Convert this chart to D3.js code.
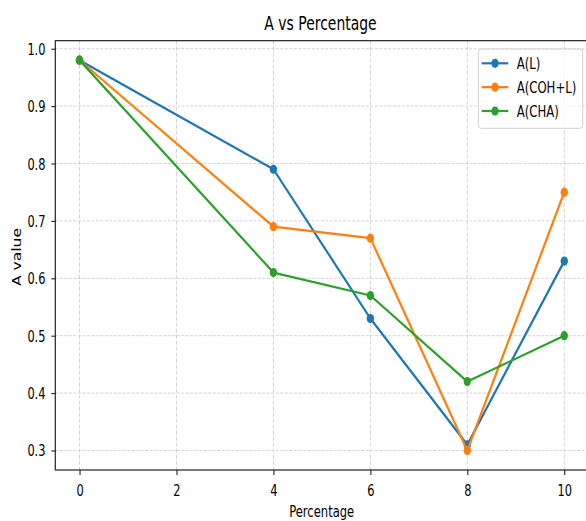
<!DOCTYPE html>
<html>
<head>
<meta charset="utf-8">
<script src="https://cdn.jsdelivr.net/npm/d3@7"></script>
<style>
  html, body { margin: 0; padding: 0; background: #fff; }
  svg { display: block; }
  text { font-family: "DejaVu Sans", sans-serif; fill: #000; }
</style>
</head>
<body>
<svg id="chart" width="586" height="521"></svg>
<script>
// ---- data ----
const percentages = [0, 4, 6, 8, 10];
const seriesNames = ["A(L)", "A(COH+L)", "A(CHA)"];
const valuesL = [0.98, 0.79, 0.53, 0.31, 0.63];
const valuesCOHL = [0.98, 0.69, 0.67, 0.30, 0.75];
const valuesCHA = [0.98, 0.61, 0.57, 0.42, 0.50];
const seriesColors = ["#1f77b4", "#ff7f0e", "#2ca02c"];
const xTicks = [0, 2, 4, 6, 8, 10];
const yTicks = [0.3, 0.4, 0.5, 0.6, 0.7, 0.8, 0.9, 1.0];
const titleText = "A vs Percentage";
const xLabelText = "Percentage";
const yLabelText = "A value";

const series = [valuesL, valuesCOHL, valuesCHA].map((vals, i) => ({
  name: seriesNames[i],
  color: seriesColors[i],
  points: percentages.map((p, j) => ({ x: p, y: vals[j] }))
}));

// ---- layout ----
const SX = 0.75; // horizontal squeeze of the reference
const mLeft = 55.3, mRight = 588.5, mTop = 40.7, mBottom = 470;

const svg = d3.select("#chart");
const x = d3.scaleLinear().domain([-0.5, 10.5]).range([mLeft, mRight]);
const y = d3.scaleLinear().domain([0.266, 1.014]).range([mBottom, mTop]);

// grid
const grid = svg.append("g");
grid.selectAll("line.vx").data(xTicks).join("line")
  .attr("x1", d => x(d)).attr("x2", d => x(d))
  .attr("y1", mTop).attr("y2", mBottom)
  .attr("stroke", "#d4d4d4").attr("stroke-width", 1)
  .attr("stroke-dasharray", "4,2");
grid.selectAll("line.hy").data(yTicks).join("line")
  .attr("x1", mLeft).attr("x2", mRight)
  .attr("y1", d => y(d)).attr("y2", d => y(d))
  .attr("stroke", "#d4d4d4").attr("stroke-width", 1)
  .attr("stroke-dasharray", "3,1.5");

// series
const lineGen = d3.line().x(d => x(d.x)).y(d => y(d.y));
series.forEach(s => {
  const g = svg.append("g");
  g.append("path").datum(s.points)
    .attr("d", lineGen).attr("fill", "none")
    .attr("stroke", s.color).attr("stroke-width", 2.2)
    .attr("stroke-linejoin", "round").attr("stroke-linecap", "square");
  g.selectAll("ellipse").data(s.points).join("ellipse")
    .attr("cx", d => x(d.x)).attr("cy", d => y(d.y))
    .attr("rx", 3.7).attr("ry", 4.6)
    .attr("fill", s.color);
});

// axes
const xAxis = svg.append("g").attr("transform", `translate(0,${mBottom})`)
  .call(d3.axisBottom(x).tickValues(xTicks).tickFormat(d3.format("d")).tickSize(5).tickPadding(10));
const yAxis = svg.append("g").attr("transform", `translate(${mLeft},0)`)
  .call(d3.axisLeft(y).tickValues(yTicks).tickFormat(d3.format(".1f")).tickSize(4).tickPadding(6));
[xAxis, yAxis].forEach(a => {
  a.select(".domain").remove();
  a.selectAll(".tick line").attr("stroke", "#222").attr("stroke-width", 1.1);
  a.selectAll(".tick text").attr("font-size", 15.2).attr("fill", "#111")
    .style("font-family", "DejaVu Sans, sans-serif");
});
xAxis.selectAll(".tick text").attr("transform", `scale(${SX},1)`);
yAxis.selectAll(".tick text")
  .attr("x", -9.8 / SX)
  .attr("dy", "0.36em")
  .attr("transform", `scale(${SX},1)`);

// spines
svg.append("rect")
  .attr("x", mLeft).attr("y", mTop)
  .attr("width", mRight - mLeft).attr("height", mBottom - mTop)
  .attr("fill", "none").attr("stroke", "#222").attr("stroke-width", 1.2);

// helper for squeezed text
function sText(str, tx, ty, size, anchor, rot) {
  return svg.append("text")
    .attr("transform", `translate(${tx},${ty}) scale(${SX},1)` + (rot ? ` rotate(${rot})` : ""))
    .attr("text-anchor", anchor)
    .attr("font-size", size)
    .text(str);
}

sText(titleText, 320.5, 30, 18.6, "middle");
sText(xLabelText, 321.7, 516.5, 15.4, "middle");
sText(yLabelText, 21, 257, 15.6, "middle", -90);

// legend
const lg = svg.append("g");
lg.append("rect")
  .attr("x", 478.3).attr("y", 49).attr("width", 104.4).attr("height", 79.3)
  .attr("rx", 3).attr("fill", "#fff").attr("fill-opacity", 0.8)
  .attr("stroke", "#d0d0d0").attr("stroke-width", 1);
const rowY = d3.scalePoint().domain(seriesNames).range([63.3, 111]);
series.forEach(s => {
  const yy = rowY(s.name);
  lg.append("line").attr("x1", 481.7).attr("x2", 508.3)
    .attr("y1", yy).attr("y2", yy)
    .attr("stroke", s.color).attr("stroke-width", 2.2);
  lg.append("ellipse").attr("cx", 495).attr("cy", yy)
    .attr("rx", 3.7).attr("ry", 4.6).attr("fill", s.color);
  lg.append("text")
    .attr("transform", `translate(516.7,${yy}) scale(${SX},1)`)
    .attr("dy", "0.36em")
    .attr("font-size", 15.6)
    .text(s.name);
});
</script>
</body>
</html>
